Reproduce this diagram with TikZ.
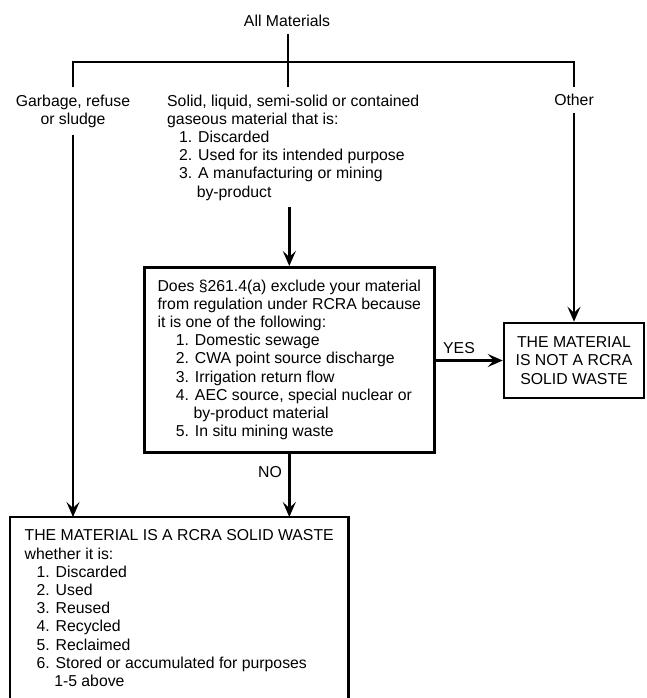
\documentclass[tikz,border=0pt]{standalone}
\usepackage{fontspec}
\setmainfont{Liberation Sans}
\usetikzlibrary{arrows.meta,positioning}
\newcommand{\numind}[1][12pt]{\hspace*{#1}}
\newcommand{\hangind}[1][12pt]{\hspace*{#1}\phantom{1.\ }}

\begin{document}
\begin{tikzpicture}[x=1pt, y=-1pt,
    txt/.style={font=\fontsize{15.8}{18.2}\selectfont, inner xsep=0pt, inner ysep=7pt},
    box/.style={draw, line width=2.6pt, font=\fontsize{15.8}{18.2}\selectfont},
    line/.style={line width=2.6pt},
    arrow/.style={line width=2.6pt, -{Stealth[length=15pt,width=13pt,inset=6pt]}}
  ]
    \useasboundingbox (0,0) rectangle (646,698);

    % top split
    \node[txt, anchor=base] (allmat) at (287,27) {All Materials};
    \coordinate (split) at (288,62);
    \node[txt, anchor=base, align=center] (garbage) at (73,124.2) {Garbage, refuse\\or sludge};
    \node[txt, anchor=base west, align=left] (solid) at (167,197) {Solid, liquid, semi-solid or contained\\gaseous material that is:\\\numind 1. Discarded\\\numind 2. Used for its intended purpose\\\numind 3. A manufacturing or mining\\\hangind by-product};
    \node[txt, anchor=base] (other) at (574,106) {Other};

    % boxes
    \node[box, anchor=north west, minimum width=290pt, minimum height=185pt, align=left] (midbox) at (143,266) {Does §261.4(a) exclude your material\\from regulation under RCRA because\\it is one of the following:\\\numind[14pt] 1. Domestic sewage\\\numind[14pt] 2. CWA point source discharge\\\numind[14pt] 3. Irrigation return flow\\\numind[14pt] 4. AEC source, special nuclear or\\\hangind[14pt] by-product material\\\numind[14pt] 5. In situ mining waste};
    \node[box, minimum width=140pt, minimum height=75pt, align=center] (notwaste) at (574,360.5) {THE MATERIAL\\IS NOT A RCRA\\SOLID WASTE};
    \node[txt, anchor=north west, minimum width=338pt, inner ysep=12.6pt, align=left] (waste) at (10,517) {THE MATERIAL IS A RCRA SOLID WASTE\\whether it is:\\\numind 1. Discarded\\\numind 2. Used\\\numind 3. Reused\\\numind 4. Recycled\\\numind 5. Reclaimed\\\numind 6. Stored or accumulated for purposes\\\hangind 1-5 above};
    \draw[line] (waste.south west) |- (waste.north east) -- (waste.south east);

    % labels
    \node[txt, anchor=base] (yes) at (459,353) {YES};
    \node[txt, anchor=base] (no) at (270,477) {NO};

    % connectors
    \draw[line] (split |- allmat.south) -- (split);
    \draw[line] (garbage.north) |- (split) -| (other.north);
    \draw[line] (split) -- (split |- solid.north);
    \draw[arrow] (midbox.north |- solid.south) -- (midbox.north);
    \draw[arrow] (garbage.south) -- (garbage.south |- waste.north);
    \draw[arrow] (other.south) -- (notwaste.north);
    \draw[arrow] (midbox.east |- notwaste.west) -- (notwaste.west);
    \draw[arrow] (midbox.south) -- (midbox.south |- waste.north);
\end{tikzpicture}
\end{document}
